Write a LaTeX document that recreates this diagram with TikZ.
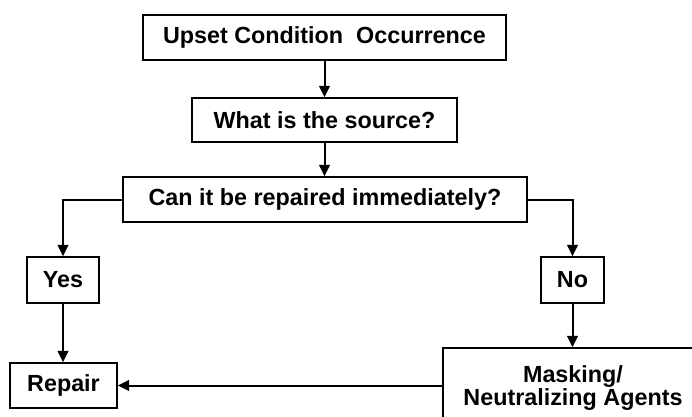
\documentclass[tikz,border=0pt]{standalone}
\usepackage{fontspec}
\setmainfont{Liberation Sans}
\usetikzlibrary{arrows.meta}
\begin{document}
\begin{tikzpicture}[x=0.75pt,y=-0.75pt,
		stepbox/.style={draw,line width=1.1pt,inner sep=0pt,align=center,
			font=\bfseries\fontsize{17.5}{17.5}\selectfont},
		flow/.style={line width=1.5pt,-{Triangle[length=8.5pt,width=8pt]}}]
		\useasboundingbox (0,0) rectangle (692,417);
		\node [stepbox,minimum width=272.25pt,minimum height=33.75pt] (occur) at (324.5,37.5) {Upset Condition\ \ Occurrence};
		\node [stepbox,minimum width=198.75pt,minimum height=33pt] (source) at (324.5,120) {What is the source?};
		\node [stepbox,minimum width=303pt,minimum height=33.75pt] (repair?) at (325,199.5) {Can it be repaired immediately?};
		\node [stepbox,minimum width=54pt,minimum height=34.5pt] (yes) at (63,280) {Yes};
		\node [stepbox,minimum width=47.25pt,minimum height=34.5pt] (no) at (572.5,280) {No};
		\node [stepbox,minimum width=80.25pt,minimum height=33.75pt] (repair) at (63.5,385.5) {Repair};
		\node [stepbox,minimum width=195pt,minimum height=60pt] (mask) at (573,388) {Masking/\\Neutralizing Agents};
		\draw [flow] (occur.south -| source.north) -- (source.north);
		\draw [flow] (source.south) -- (source.south |- repair?.north);
		\draw [flow] (repair?.west) -| (yes.north);
		\draw [flow] (repair?.east) -| (no.north);
		\draw [flow] (yes.south) -- (yes.south |- repair.north);
		\draw [flow] (no.south) -- (no.south |- mask.north);
		\draw [flow] (mask.west |- repair.east) -- (repair.east);
\end{tikzpicture}
\end{document}
